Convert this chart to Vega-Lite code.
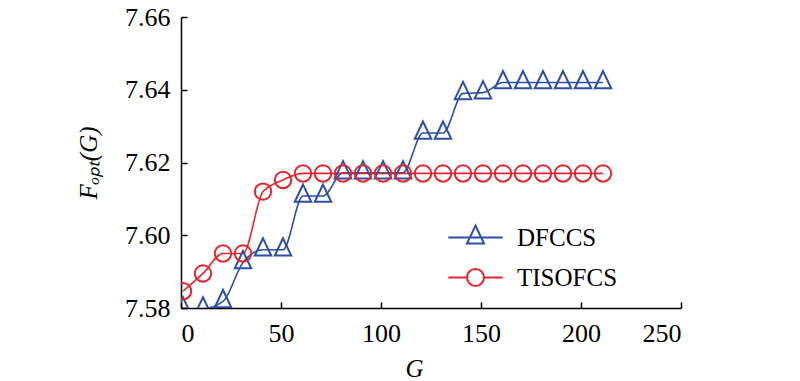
{
  "$schema": "https://vega.github.io/schema/vega-lite/v6.json",
  "autosize": {"type": "none"},
  "width": 500,
  "height": 291,
  "padding": {"left": 181, "top": 17, "right": 119, "bottom": 73},
  "background": "white",
  "config": {
    "view": {"stroke": null},
    "font": "Liberation Serif",
    "axis": {
      "labelFont": "Liberation Serif",
      "labelFontSize": 26,
      "labelColor": "black",
      "titleFont": "Liberation Serif",
      "titleFontSize": 25,
      "titleFontWeight": "normal",
      "titleFontStyle": "italic",
      "titleColor": "black",
      "domainColor": "black",
      "domainWidth": 1.5,
      "tickColor": "black",
      "tickWidth": 1.5,
      "tickSize": -6,
      "grid": false
    }
  },
  "data": {
    "values": [
      {"G": 1, "method": "DFCCS", "F": 7.5798},
      {"G": 11, "method": "DFCCS", "F": 7.5798},
      {"G": 21, "method": "DFCCS", "F": 7.5818},
      {"G": 31, "method": "DFCCS", "F": 7.5925},
      {"G": 41, "method": "DFCCS", "F": 7.5960},
      {"G": 51, "method": "DFCCS", "F": 7.5960},
      {"G": 61, "method": "DFCCS", "F": 7.6108},
      {"G": 71, "method": "DFCCS", "F": 7.6108},
      {"G": 81, "method": "DFCCS", "F": 7.6172},
      {"G": 91, "method": "DFCCS", "F": 7.6172},
      {"G": 101, "method": "DFCCS", "F": 7.6172},
      {"G": 111, "method": "DFCCS", "F": 7.6172},
      {"G": 121, "method": "DFCCS", "F": 7.6281},
      {"G": 131, "method": "DFCCS", "F": 7.6281},
      {"G": 141, "method": "DFCCS", "F": 7.6390},
      {"G": 151, "method": "DFCCS", "F": 7.6392},
      {"G": 161, "method": "DFCCS", "F": 7.6420},
      {"G": 171, "method": "DFCCS", "F": 7.6420},
      {"G": 181, "method": "DFCCS", "F": 7.6420},
      {"G": 191, "method": "DFCCS", "F": 7.6420},
      {"G": 201, "method": "DFCCS", "F": 7.6420},
      {"G": 211, "method": "DFCCS", "F": 7.6420},
      {"G": 1, "method": "TISOFCS", "F": 7.5846},
      {"G": 11, "method": "TISOFCS", "F": 7.5895},
      {"G": 21, "method": "TISOFCS", "F": 7.5950},
      {"G": 31, "method": "TISOFCS", "F": 7.5950},
      {"G": 41, "method": "TISOFCS", "F": 7.6120},
      {"G": 51, "method": "TISOFCS", "F": 7.6152},
      {"G": 61, "method": "TISOFCS", "F": 7.6170},
      {"G": 71, "method": "TISOFCS", "F": 7.6170},
      {"G": 81, "method": "TISOFCS", "F": 7.6170},
      {"G": 91, "method": "TISOFCS", "F": 7.6170},
      {"G": 101, "method": "TISOFCS", "F": 7.6170},
      {"G": 111, "method": "TISOFCS", "F": 7.6170},
      {"G": 121, "method": "TISOFCS", "F": 7.6170},
      {"G": 131, "method": "TISOFCS", "F": 7.6170},
      {"G": 141, "method": "TISOFCS", "F": 7.6170},
      {"G": 151, "method": "TISOFCS", "F": 7.6170},
      {"G": 161, "method": "TISOFCS", "F": 7.6170},
      {"G": 171, "method": "TISOFCS", "F": 7.6170},
      {"G": 181, "method": "TISOFCS", "F": 7.6170},
      {"G": 191, "method": "TISOFCS", "F": 7.6170},
      {"G": 201, "method": "TISOFCS", "F": 7.6170},
      {"G": 211, "method": "TISOFCS", "F": 7.6170}
    ]
  },
  "encoding": {
    "x": {
      "field": "G",
      "type": "quantitative",
      "scale": {"domain": [0, 250], "nice": false, "zero": false},
      "axis": {"values": [0, 50, 100, 150, 200, 250], "title": "G", "labelPadding": 18, "titlePadding": 10, "titleX": 233}
    },
    "y": {
      "field": "F",
      "type": "quantitative",
      "scale": {"domain": [7.58, 7.66], "nice": false, "zero": false},
      "axis": {"values": [7.58, 7.6, 7.62, 7.64, 7.66], "format": ".2f", "title": "Fₒₚₜ(G)", "labelPadding": 17, "titlePadding": 23}
    },
    "color": {
      "field": "method",
      "type": "nominal",
      "scale": {"domain": ["DFCCS", "TISOFCS"], "range": ["#2e4fa6", "#e4262c"]},
      "legend": {
        "title": null,
        "orient": "none",
        "legendX": 282,
        "legendY": 208,
        "padding": 0,
        "labelFont": "Liberation Serif",
        "labelFontSize": 25,
        "labelColor": "black",
        "labelOffset": 29,
        "rowPadding": 14,
        "symbolSize": 289,
        "symbolStrokeWidth": 2,
        "symbolFillColor": "transparent",
        "encode": {
          "symbols": {
            "update": {
              "shape": {"signal": "datum.value === 'DFCCS' ? 'M-3.2,0L3.2,0M0,-1.4L-1,0.7L1,0.7Z' : 'M-3.2,0L-1,0M1,0L3.2,0M-1,0A1,1 0 1,1 1,0A1,1 0 1,1 -1,0Z'"}
            }
          }
        }
      }
    }
  },
  "layer": [
    {
      "mark": {"type": "line", "interpolate": "monotone", "strokeWidth": 1.6, "clip": true},
      "encoding": {"detail": {"field": "method"}}
    },
    {
      "mark": {"type": "point", "filled": false, "strokeWidth": 2, "size": 270, "opacity": 1, "clip": true},
      "encoding": {
        "shape": {
          "condition": {"test": "datum.method === 'DFCCS'", "value": "M0,-1.4L-1,0.7L1,0.7Z"},
          "value": "circle"
        }
      }
    }
  ]
}
